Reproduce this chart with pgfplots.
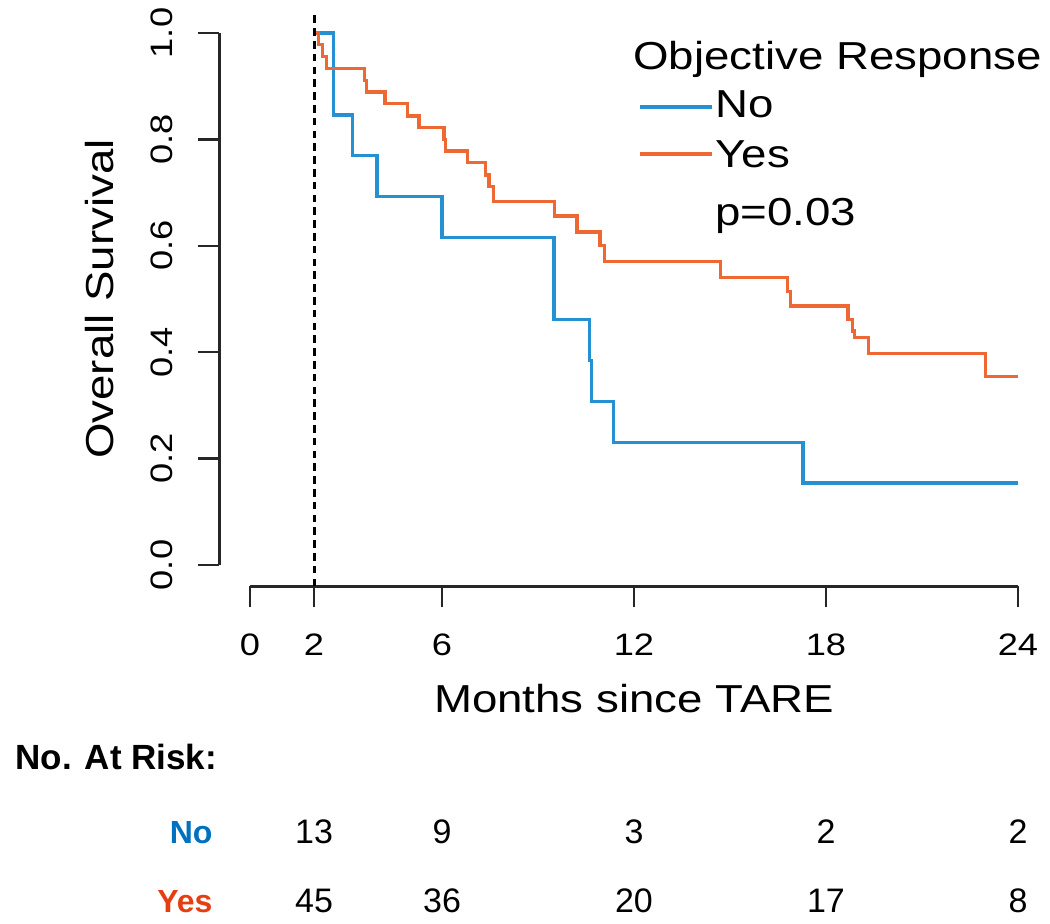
\documentclass[border=0pt]{standalone}
\usepackage{pgfplots}
\pgfplotsset{compat=1.18}
\usepackage{fontspec}
\setmainfont{Liberation Sans}
\newfontfamily\wide{Liberation Sans}[FakeStretch=1.17]

\definecolor{kmblue}{RGB}{36,146,210}
\definecolor{kmorange}{RGB}{238,104,52}
\definecolor{txtblue}{RGB}{0,112,192}
\definecolor{txtred}{RGB}{230,62,18}

\newcommand{\labfont}{\wide\fontsize{19.5}{23}\selectfont}
\newcommand{\tickfont}{\wide\fontsize{15.5}{18}\selectfont}
\tikzset{risk/.style={font=\fontsize{17}{20}\selectfont, anchor=base, inner sep=0pt}}

\begin{document}
\begin{tikzpicture}
\path[use as bounding box] (-109.65pt,-168.85pt) rectangle (415.35pt,293.15pt);
\begin{axis}[
    scale only axis,
    width=414.7pt,
    height=287.3pt,
    xmin=-0.96, xmax=24.96,
    ymin=-0.04, ymax=1.04,
    clip=false,
    axis line style={draw=none},
    xtick={0,2,6,12,18,24},
    ytick={0,0.2,0.4,0.6,0.8,1.0},
    xtick pos=bottom,
    ytick pos=left,
    tick align=outside,
    major tick length=10.5pt,
    tick style={line width=1.25pt, black!85},
    yticklabel={\pgfmathprintnumber[fixed,fixed zerofill,precision=1]{\tick}},
    /pgf/number format/assume math mode=true,
    xticklabel style={font=\tickfont, anchor=base, inner sep=0pt},
    yticklabel style={font=\tickfont, rotate=90, anchor=base, inner sep=0pt},
    xticklabel shift=24pt,
    yticklabel shift=13pt,
    xlabel={Months since TARE},
    ylabel={Overall Survival},
    xlabel style={font=\labfont, at={(axis description cs:0.5,-0.2204)}, anchor=base, inner sep=0pt},
    ylabel style={font=\labfont, at={(axis description cs:-0.128,0.5)}, anchor=base, inner sep=0pt},
    const plot,
]
% R-style axis lines
\draw[line width=1.25pt, black!85] (axis cs:0,-0.04) -- (axis cs:24,-0.04);
\draw[line width=1.25pt, black!85] (axis cs:-0.96,0) -- (axis cs:-0.96,1);

% reference line at 2 months
\addplot[sharp plot, black, line width=1.5pt, dash pattern=on 3.8pt off 2.6pt] coordinates {(2,-0.04) (2,1.04)};

% No
\addplot[kmblue, line width=1.6pt] coordinates {
(2.05,1.000) (2.60,0.846) (3.20,0.769) (3.97,0.692) (6.00,0.615)
(9.50,0.462) (10.60,0.385) (10.66,0.308) (11.35,0.231) (17.28,0.154)
(24.00,0.154)};

% Yes
\addplot[kmorange, line width=1.6pt] coordinates {
(2.05,1.000) (2.15,0.978) (2.27,0.956) (2.40,0.933) (3.59,0.911)
(3.64,0.889) (4.22,0.867) (4.93,0.844) (5.28,0.822) (6.06,0.800)
(6.12,0.778) (6.79,0.756) (7.35,0.733) (7.47,0.711) (7.62,0.683)
(9.51,0.656) (10.22,0.626) (10.94,0.600) (11.08,0.570) (14.70,0.541)
(16.80,0.514) (16.90,0.487) (18.69,0.461) (18.84,0.440) (18.90,0.427)
(19.32,0.397) (22.99,0.355) (24.00,0.355)};

% legend
\node[font=\labfont, anchor=base west, inner sep=0pt] at (axis cs:11.97,0.9305) {Objective Response};
\draw[kmblue, line width=1.6pt] (axis cs:12.19,0.861) -- (axis cs:14.44,0.861);
\draw[kmorange, line width=1.6pt] (axis cs:12.19,0.7726) -- (axis cs:14.44,0.7726);
\node[font=\labfont, anchor=base west, inner sep=0pt] at (axis cs:14.53,0.842) {No};
\node[font=\labfont, anchor=base west, inner sep=0pt] at (axis cs:14.53,0.748) {Yes};
\node[font=\labfont, anchor=base west, inner sep=0pt] at (axis cs:14.53,0.639) {p=0.03};

% number at risk
\node[font=\bfseries\fontsize{17.5}{20}\selectfont, anchor=base west, inner sep=0pt] at (axis cs:-7.34,-0.385) {No. At Risk:};
\node[font=\bfseries\fontsize{16}{19}\selectfont, text=txtblue, anchor=base east, inner sep=0pt] at (axis cs:-1.16,-0.5226) {No};
\node[font=\bfseries\fontsize{16}{19}\selectfont, text=txtred, anchor=base east, inner sep=0pt] at (axis cs:-1.16,-0.654) {Yes};
\node[risk] at (axis cs:2,-0.5226) {13};
\node[risk] at (axis cs:6,-0.5226) {9};
\node[risk] at (axis cs:12,-0.5226) {3};
\node[risk] at (axis cs:18,-0.5226) {2};
\node[risk] at (axis cs:24,-0.5226) {2};
\node[risk] at (axis cs:2,-0.654) {45};
\node[risk] at (axis cs:6,-0.654) {36};
\node[risk] at (axis cs:12,-0.654) {20};
\node[risk] at (axis cs:18,-0.654) {17};
\node[risk] at (axis cs:24,-0.654) {8};
\end{axis}
\end{tikzpicture}
\end{document}
